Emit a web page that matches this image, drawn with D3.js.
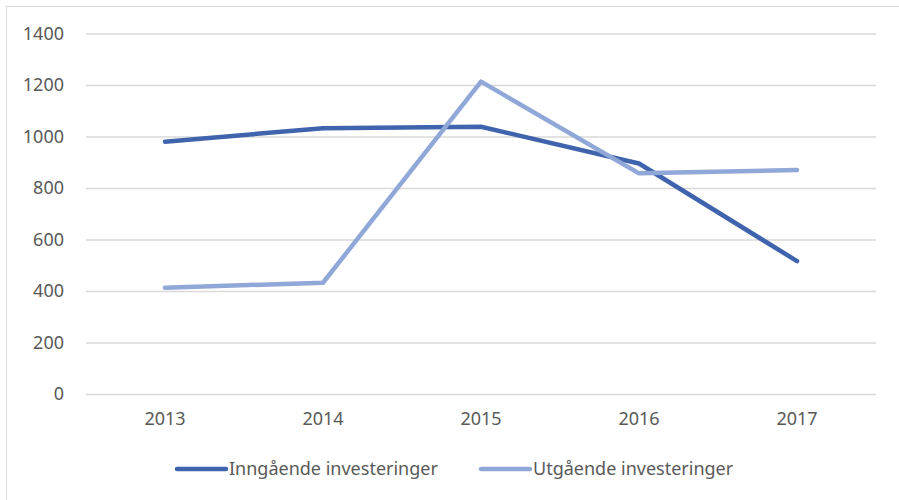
<!DOCTYPE html>
<html><head><meta charset="utf-8">
<script src="https://cdn.jsdelivr.net/npm/d3@7"></script>
<style>body{margin:0;background:#fff;} svg{display:block;}</style>
</head><body><svg id="c" width="899" height="500"></svg>
<script>
const years = ["2013","2014","2015","2016","2017"];
const inngaende = [980, 1032, 1038, 895, 516];
const utgaende = [413, 432, 1213, 857, 870];
const seriesNames = ["Inngående investeringer","Utgående investeringer"];
const seriesColors = ["#3F63AC","#8FA8D8"];
const yTicks = [0,200,400,600,800,1000,1200,1400];

const svg = d3.select("#c");
const font = "'Noto Sans', 'Open Sans', sans-serif";
svg.append("rect").attr("x",6.5).attr("y",6.5).attr("width",920).attr("height",520)
  .attr("fill","#fff").attr("stroke","#D9D9D9").attr("stroke-width",1);

const x = d3.scaleBand().domain(years).range([86,876]);
const y = d3.scaleLinear().domain([0,1400]).range([394,33.5]);

const gy = svg.append("g").attr("transform","translate(86,0)")
  .call(d3.axisLeft(y).tickValues(yTicks).tickSize(-790).tickPadding(22).tickFormat(d3.format("d")));
gy.select(".domain").remove();
gy.selectAll(".tick line").attr("stroke","#D9D9D9").attr("stroke-width",1.5);
gy.selectAll(".tick text").attr("fill","#595959").style("font-family",font).style("font-size","18px");

const gx = svg.append("g").attr("transform","translate(0,394)")
  .call(d3.axisBottom(x).tickSize(0).tickPadding(18));
gx.select(".domain").remove();
gx.selectAll(".tick text").attr("fill","#595959").style("font-family",font).style("font-size","18px");

const line = d3.line().x((d,i)=>x(years[i])+x.bandwidth()/2).y(d=>y(d));
[inngaende, utgaende].forEach((s,k)=>{
  svg.append("path").datum(s).attr("d",line).attr("fill","none")
    .attr("stroke",seriesColors[k]).attr("stroke-width",4.5)
    .attr("stroke-linecap","round").attr("stroke-linejoin","round");
});

const legX = [177, 481];
seriesNames.forEach((n,k)=>{
  const g = svg.append("g").attr("transform",`translate(${legX[k]},469)`);
  g.append("line").attr("x1",0).attr("x2",49).attr("y1",0).attr("y2",0)
    .attr("stroke",seriesColors[k]).attr("stroke-width",4.5).attr("stroke-linecap","round");
  g.append("text").attr("x",52).attr("y",0).attr("dy","0.35em").text(n)
    .attr("fill","#595959").style("font-family",font).style("font-size","18px");
});
</script></body></html>
